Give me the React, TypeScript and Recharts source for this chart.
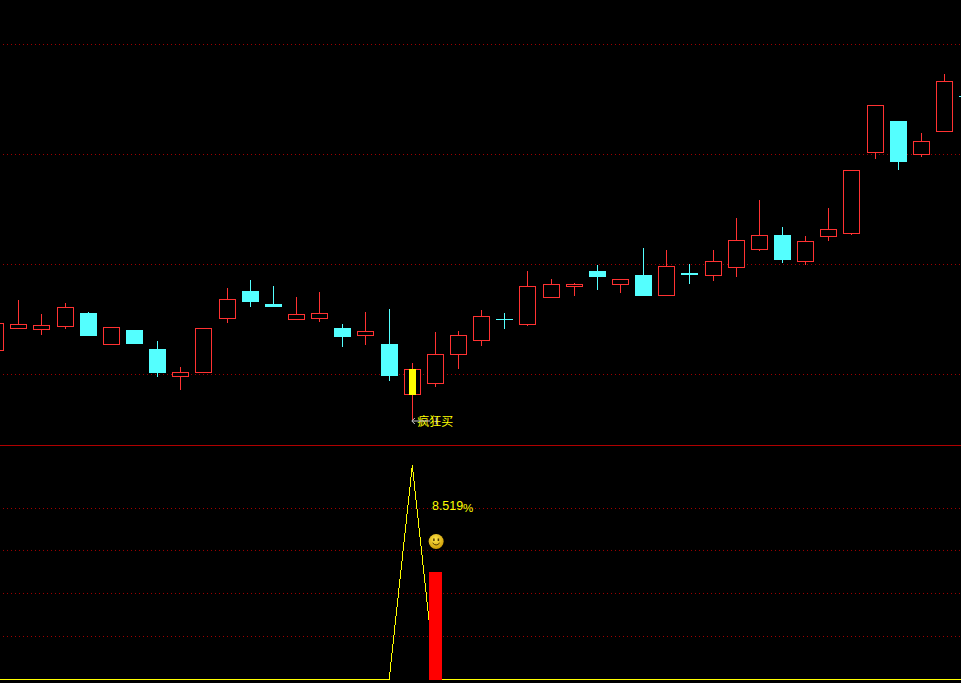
import React from "react";
import { ComposedChart, Bar, Line, XAxis, YAxis, CartesianGrid, ReferenceLine, ReferenceDot } from "recharts";

const opens = [9.5, 11.7, 11.6, 11.9, 13.2, 10.1, 11.5, 9.6, 6.9, 7.3, 12.7, 15.4, 14.1, 12.6, 12.7, 11.7, 11.0, 10.1, 5.1, 6.2, 9.1, 10.5, 12.6, 12.1, 14.8, 15.9, 17.4, 16.1, 17.0, 15.0, 17.2, 17.0, 17.8, 19.6, 21.0, 18.4, 20.9, 21.2, 29.3, 32.4, 29.1, 31.4, 34.9];
const closes = [12.2, 12.1, 12.0, 13.8, 10.9, 11.8, 10.1, 7.2, 7.3, 11.7, 14.6, 14.3, 13.8, 13.1, 13.2, 10.8, 11.4, 6.9, 7.6, 9.1, 11.0, 12.9, 12.5, 15.9, 16.1, 16.1, 16.8, 16.6, 14.9, 17.9, 17.0, 18.4, 20.5, 21.0, 18.5, 20.4, 21.6, 27.5, 34.0, 28.3, 30.4, 36.4, 34.8];
const highs = [12.2, 14.5, 13.1, 14.2, 13.3, 11.8, 11.5, 10.4, 7.8, 11.7, 15.7, 16.5, 15.9, 14.8, 15.3, 12.1, 13.3, 13.6, 8.2, 11.3, 11.4, 13.5, 13.2, 17.4, 16.6, 16.2, 18.0, 16.6, 19.7, 19.5, 18.1, 19.5, 22.7, 24.5, 21.8, 20.9, 23.7, 27.5, 34.0, 32.4, 31.2, 37.1, 34.9];
const lows = [9.4, 11.6, 11.0, 11.6, 10.9, 10.0, 10.1, 6.8, 5.5, 7.2, 12.2, 13.8, 13.8, 12.5, 12.3, 9.8, 10.0, 6.4, 2.5, 5.8, 7.6, 9.9, 11.6, 11.9, 14.7, 14.9, 15.5, 15.2, 14.9, 14.9, 16.1, 16.4, 16.8, 19.4, 18.2, 18.0, 20.4, 21.0, 28.6, 27.5, 28.8, 31.3, 34.8];
const indicatorLine = [0, 0, 0, 0, 0, 0, 0, 0, 0, 0, 0, 0, 0, 0, 0, 0, 0, 0, 10, 0, 0, 0, 0, 0, 0, 0, 0, 0, 0, 0, 0, 0, 0, 0, 0, 0, 0, 0, 0, 0, 0, 0, 0];
const indicatorBars = [0, 0, 0, 0, 0, 0, 0, 0, 0, 0, 0, 0, 0, 0, 0, 0, 0, 0, 0, 5.02, 0, 0, 0, 0, 0, 0, 0, 0, 0, 0, 0, 0, 0, 0, 0, 0, 0, 0, 0, 0, 0, 0, 0];
const priceGrid = [40.1, 29.1, 18.1, 7.1];
const indicatorGrid = [2.01, 4.02, 6.03, 7.99];
const signalIndex = 18;
const signalText = "疯狂买";
const percentValue = "8.519";
const percentSign = "%";

const candles = opens.map((open, i) => ({
  idx: i,
  open,
  close: closes[i],
  high: highs[i],
  low: lows[i],
  signal: i === signalIndex,
}));
const indicator = indicatorLine.map((v, i) => ({ idx: i, line: v, bar: indicatorBars[i] }));

const RED = "#FF3232";
const CYAN = "#54FFFF";
const YELLOW = "#FFFF00";
const GRID = "#A00000";
const SEP = "#B00000";
const DOT_OFFSET = 1.21;

const margins = { left: -15.79, right: -18.23 };

function CandleShape(props: any) {
  const { x, y, width, height, payload } = props;
  const { open, close, high, low, signal } = payload;
  const span = high - low;
  const py = (v: number) => Math.floor(y + ((high - v) / span) * height + 1e-6);
  const cx = Math.floor(x + width / 2);
  const up = close > open;
  const color = up ? RED : CYAN;
  const top = py(Math.max(open, close));
  const bottom = py(Math.min(open, close));
  const hi = py(high);
  const lo = py(low);
  return (
    <g shapeRendering="crispEdges">
      <rect x={cx} y={hi} width={1} height={Math.max(lo - hi, 0)} fill={color} />
      {up ? (
        <rect x={cx - 7.5} y={top + 0.5} width={16} height={bottom - top} fill="#000" stroke={color} strokeWidth={1} />
      ) : (
        <rect x={cx - 8} y={top} width={17} height={Math.max(bottom - top, 1)} fill={color} />
      )}
      {signal ? <rect x={cx - 3} y={top} width={7} height={bottom - top + 1} fill={YELLOW} /> : null}
    </g>
  );
}

function IndicatorBarShape(props: any) {
  const { x, y, width, height } = props;
  if (!height || height <= 0.01) return null;
  const left = Math.round(x);
  const top = Math.floor(y);
  return <rect x={left} y={top} width={Math.round(width)} height={Math.ceil(y + height) - top} fill="#FF0000" shapeRendering="crispEdges" />;
}

function SignalLabel(props: any) {
  const { cx, cy } = props;
  return (
    <g>
      <text x={cx + 5} y={cy + 5} fill={YELLOW} fontSize={12} fontFamily="'Noto Sans CJK SC', sans-serif">
        {signalText}
      </text>
      <path d={`M${cx + 2.5} ${cy - 2.5}L${cx - 0.5} ${cy + 0.5}L${cx + 2.5} ${cy + 3.5}M${cx} ${cy + 0.5}H${cx + 18}M${cx + 24} ${cy - 3}V${cy + 4}`} stroke="#D0D0D0" strokeWidth={1} fill="none" />
    </g>
  );
}

function PercentLabel(props: any) {
  const { cx, cy } = props;
  return (
    <g fontFamily="'Liberation Sans', sans-serif" fill={YELLOW}>
      <text x={cx - 3.5} y={cy + 12.5} fontSize={12.5}>{percentValue}</text>
      <text x={cx + 27.5} y={cy + 15} fontSize={11.5}>{percentSign}</text>
    </g>
  );
}

function Smiley(props: any) {
  const { cx, cy } = props;
  const c = cx + 0.7;
  return (
    <g>
      <defs>
        <radialGradient id="smile" cx="45%" cy="35%" r="70%">
          <stop offset="0%" stopColor="#FFE64A" />
          <stop offset="100%" stopColor="#C89600" />
        </radialGradient>
      </defs>
      <circle cx={c} cy={cy} r={7.5} fill="url(#smile)" />
      <rect x={c - 3} y={cy - 3} width={1.5} height={2.5} fill="#503800" />
      <rect x={c + 1.5} y={cy - 3} width={1.5} height={2.5} fill="#503800" />
      <path d={`M${c - 3.5} ${cy + 1.5}Q${c} ${cy + 5.5} ${c + 3.5} ${cy + 1.5}`} stroke="#503800" strokeWidth={1} fill="none" />
    </g>
  );
}

export default function App() {
  return (
    <div style={{ position: "absolute", left: 0, top: 0, width: 961, height: 683, background: "#000", overflow: "hidden" }}>
      <div style={{ position: "absolute", left: 0, top: 0 }}>
        <ComposedChart width={961} height={446} data={candles} margin={{ top: 0.5, bottom: 0, ...margins }}>
          <XAxis dataKey="idx" hide />
          <YAxis hide domain={[-0.05, 44.5]} ticks={priceGrid} allowDataOverflow />
          <CartesianGrid vertical={false} syncWithTicks stroke={GRID} strokeDasharray="1 3" strokeDashoffset={DOT_OFFSET} />
          <ReferenceLine y={0} stroke={SEP} />
          <Bar dataKey={(d: any) => [d.low, d.high]} barSize={17} shape={CandleShape} isAnimationActive={false} />
          <ReferenceDot x={signalIndex} y={2.5} r={0} shape={SignalLabel} />
        </ComposedChart>
      </div>
      <div style={{ position: "absolute", left: 0, top: 445 }}>
        <ComposedChart width={961} height={238} data={indicator} margin={{ top: 0, bottom: 0, ...margins }}>
          <XAxis dataKey="idx" hide />
          <YAxis hide domain={[-0.1636, 10.958]} ticks={indicatorGrid} allowDataOverflow />
          <CartesianGrid vertical={false} syncWithTicks stroke={GRID} strokeDasharray="1 3" strokeDashoffset={DOT_OFFSET} />
          <Line dataKey="line" type="linear" stroke={YELLOW} strokeWidth={1} dot={false} shapeRendering="crispEdges" isAnimationActive={false} zIndex={100} />
          <Bar dataKey="bar" barSize={13} shape={IndicatorBarShape} isAnimationActive={false} zIndex={300} />
          <ReferenceDot x={19} y={8.519} r={0} shape={PercentLabel} />
          <ReferenceDot x={19} y={6.45} r={0} shape={Smiley} />
        </ComposedChart>
      </div>
    </div>
  );
}
